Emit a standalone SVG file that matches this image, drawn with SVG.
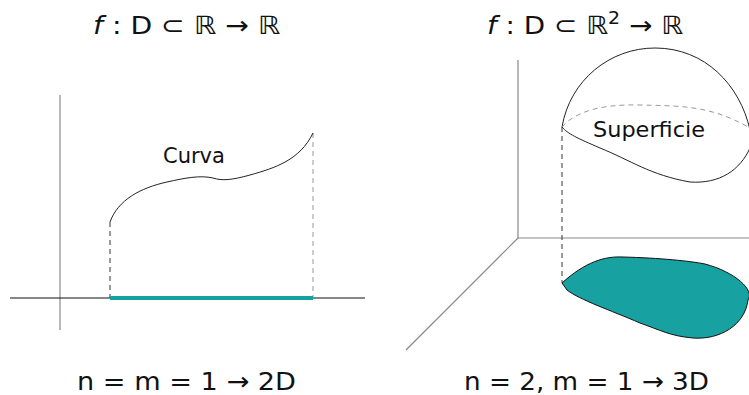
<svg xmlns="http://www.w3.org/2000/svg" width="749" height="395" viewBox="0 0 749 395">
<style>
.title{font-family:"DejaVu Sans","Liberation Sans",sans-serif;font-size:25px;fill:#111}
.lbl{font-family:"DejaVu Sans","Liberation Sans",sans-serif;font-size:21px;fill:#111}
.ax{stroke:#888;stroke-width:1.2;fill:none}
.axk{stroke:#111;stroke-width:1.2;fill:none}
.crv{stroke:#222;stroke-width:1;fill:none}
.dash{stroke:#333;stroke-width:1;stroke-dasharray:5,4;fill:none}
.dashg{stroke:#999;stroke-width:1;stroke-dasharray:5,4;fill:none}
</style>
<rect width="749" height="395" fill="#fff"/>
<g id="titles">
<text class="title" x="93" y="34" textLength="187" lengthAdjust="spacingAndGlyphs"><tspan font-style="italic">f</tspan> : D ⊂ ℝ → ℝ</text>
<text class="title" x="487" y="34" textLength="196" lengthAdjust="spacingAndGlyphs"><tspan font-style="italic">f</tspan> : D ⊂ ℝ<tspan dy="-10" font-size="17">2</tspan><tspan dy="10"> → ℝ</tspan></text>
<text class="title" x="77" y="390" textLength="219" lengthAdjust="spacingAndGlyphs">n = m = 1 → 2D</text>
<text class="title" x="464" y="390" textLength="245" lengthAdjust="spacingAndGlyphs">n = 2, m = 1 → 3D</text>
</g>
<g id="left-plot">
<line class="ax" x1="60" y1="95" x2="60" y2="330"/>
<line class="axk" x1="10" y1="298" x2="365" y2="298"/>
<line class="dash" x1="110" y1="222" x2="110" y2="298"/>
<line class="dashg" x1="313" y1="133" x2="313" y2="298"/>
<path class="crv" d="M110,222 C118,200 140,188 167,182 C185,178 200,175 213,178 C222,181 232,180 250,175 C275,168 300,160 313,133"/>
<line x1="110" y1="298" x2="313" y2="298" stroke="#16a0a0" stroke-width="4"/>
<text class="lbl" x="163" y="163">Curva</text>
</g>
<g id="right-plot">
<line class="ax" x1="518" y1="60" x2="518" y2="238"/>
<line class="ax" x1="518" y1="238" x2="749" y2="238"/>
<line class="ax" x1="518" y1="238" x2="406" y2="350"/>
<path d="M562,283 C585,262 605,256 623,257 C660,258 690,261 705,264 C735,272 755,290 748,300 C745,325 720,340 693,338 C670,336 660,330 640,323 C610,310 580,300 567,290 Z" fill="#17a1a1" stroke="#111" stroke-width="1"/>
<line class="dash" x1="562" y1="127" x2="562" y2="283"/>
<path class="crv" d="M562,127 C570,80 610,48 655,48 C705,48 740,85 750,130"/>
<path class="dashg" d="M562,127 C575,112 600,104 640,105 C680,106 710,105 750,128"/>
<path class="crv" d="M562,127 C568,134 577,138 600,148 C630,160 650,175 690,182 C720,184 740,170 750,148"/>
<text class="lbl" x="593" y="137" textLength="112" lengthAdjust="spacingAndGlyphs">Superficie</text>
</g>
</svg>
